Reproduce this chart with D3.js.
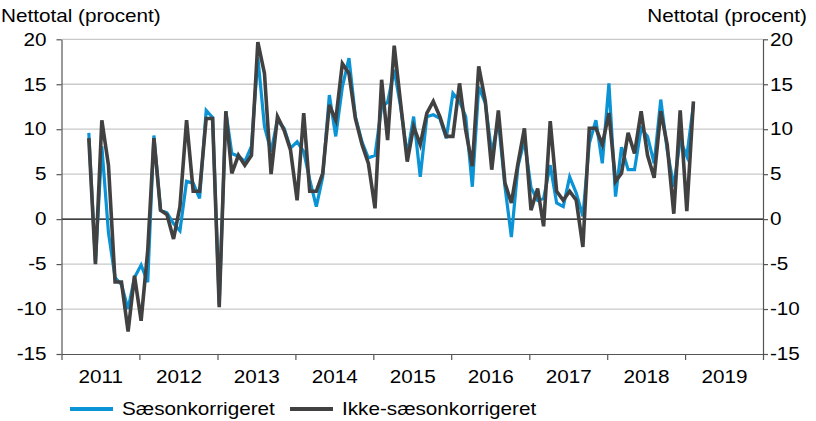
<!DOCTYPE html>
<html>
<head>
<meta charset="utf-8">
<script src="https://cdn.jsdelivr.net/npm/d3@7/dist/d3.min.js"></script>
<style>
  body { margin: 0; background: #fff; }
  text { font-family: "Liberation Sans", Arial, sans-serif; fill: #000; }
</style>
</head>
<body>
<svg id="chart" width="816" height="421"></svg>
<script>
// monthly data, May 2011 - Feb 2019
var startYear = 2011, startMonth = 4;

var saesonkorrigeret = [
  9.6, -4.8, 8.1, -1.5, -6.5, -7.3, -10, -6.5, -5.1, -7,
  9.3, 1, 0.7, -0.5, -1.3, 4.2, 4.0, 2.3, 12.1, 11.3,
  -9.5, 12, 7.3, 7.0, 6.4, 8.1, 18, 10.3, 7.5, 11.0,
  10.1, 7.9, 8.6, 7.5, 4.4, 1.4, 4.7, 13.8, 9.2, 14.7,
  17.9, 11.4, 8.6, 6.8, 7.1, 12.5, 13, 16.6, 12.5, 7.1,
  11.4, 4.7, 11.4, 11.6, 11.2, 9.0, 14.0, 13.1, 11.4, 3.6,
  14.7, 12.9, 7.3, 11.0, 3.6, -2.0, 5.9, 8.8, 3.5, 2.1,
  2.3, 6, 1.8, 1.4, 4.7, 2.9, 0.3, 8.4, 11.0, 6.2,
  15.1, 2.5, 8, 5.5, 5.5, 10.1, 9.2, 6.2, 13.3, 7.7,
  3.6, 8.8, 7.0, 12.7
];

var ikkeSaesonkorrigeret = [
  9.0, -5, 11, 6.0, -7, -7, -12.5, -6.3, -11.3, -3.5,
  9, 1.0, 0.5, -2.2, 1.4, 11.0, 3.1, 3.1, 11.2, 11.2,
  -9.8, 12.0, 5.1, 7.1, 6.0, 7.1, 19.7, 16.2, 5.0, 11.4,
  9.9, 7.7, 2.1, 11.8, 3.1, 3.1, 5.1, 12.7, 11.0, 17.3,
  16.2, 11.2, 8.3, 6.2, 1.2, 15.5, 8.8, 19.3, 12.9, 6.4,
  10.3, 8.3, 11.8, 13.1, 11.4, 9.2, 9.2, 15.1, 9.9, 5.9,
  17.0, 13.1, 5.5, 12.1, 4.0, 1.8, 6.2, 10.1, 1.0, 3.4,
  -0.8, 10.9, 3.1, 2.1, 3.1, 2.1, -3.1, 10.1, 10.1, 8.3,
  11.8, 4.2, 5.1, 9.6, 7.3, 12.0, 7.1, 4.6, 12.0, 8.3,
  0.6, 12.1, 0.9, 13.1
];

var years = [2011, 2012, 2013, 2014, 2015, 2016, 2017, 2018, 2019];
var yTicks = [-15, -10, -5, 0, 5, 10, 15, 20];
var gridTicks = [-10, -5, 5, 10, 15, 20];
var seriesNames = ["Sæsonkorrigeret", "Ikke-sæsonkorrigeret"];
var seriesColors = ["#0a93d5", "#414141"];
var axisTitle = "Nettotal (procent)";

var sx = 1.15; // text is slightly wide in the original

var svg = d3.select("#chart");
var plotL = 61.5, plotR = 763, plotT = 39.3, plotB = 354;

var x = d3.scaleTime()
  .domain([new Date(2011, 0, 1), new Date(2020, 0, 1)])
  .range([plotL, plotR]);
var y = d3.scaleLinear()
  .domain([-15, 20])
  .range([plotB, plotT]);

var dates = saesonkorrigeret.map(function(d, i) {
  return new Date(startYear, startMonth + i, 9);
});

// gridlines
svg.append("g").selectAll("line")
  .data(gridTicks)
  .enter().append("line")
  .attr("x1", plotL).attr("x2", plotR)
  .attr("y1", function(d) { return y(d); })
  .attr("y2", function(d) { return y(d); })
  .attr("stroke", "#c9c9c9")
  .attr("stroke-width", 1.3);

// zero line
svg.append("line")
  .attr("x1", plotL).attr("x2", plotR)
  .attr("y1", y(0)).attr("y2", y(0))
  .attr("stroke", "#000").attr("stroke-width", 1.2);

function styleAxis(g) {
  g.select(".domain").attr("stroke", "#555").attr("stroke-width", 1.2);
  g.selectAll(".tick line").attr("stroke", "#555").attr("stroke-width", 1.2);
  g.selectAll("text")
    .attr("font-size", 18)
    .attr("fill", "#000")
    .attr("transform", "scale(" + sx + ",1)");
}

var yFmt = function(d) { return d; };

svg.append("g")
  .attr("transform", "translate(" + plotL + ",0)")
  .call(d3.axisLeft(y).tickValues(yTicks).tickSize(5).tickPadding(8).tickSizeOuter(0).tickFormat(yFmt))
  .call(styleAxis);

svg.append("g")
  .attr("transform", "translate(" + plotR + ",0)")
  .call(d3.axisRight(y).tickValues(yTicks).tickSize(5).tickPadding(1).tickSizeOuter(0).tickFormat(yFmt))
  .call(styleAxis);

// x axis: ticks on year boundaries, labels centred in each year
var yearStarts = years.map(function(d) { return new Date(d, 0, 1); }).concat([new Date(2020, 0, 1)]);
svg.append("g")
  .attr("transform", "translate(0," + plotB + ")")
  .call(d3.axisBottom(x).tickValues(yearStarts).tickSize(6).tickSizeOuter(0).tickFormat(""))
  .call(styleAxis);

svg.append("g")
  .attr("transform", "translate(0," + plotB + ")")
  .call(d3.axisBottom(x).tickValues(years.map(function(d) { return new Date(d, 6, 2); }))
    .tickSize(0).tickPadding(16).tickFormat(d3.timeFormat("%Y")))
  .call(styleAxis)
  .call(function(g) { g.select(".domain").remove(); });

// series lines
var line = d3.line()
  .x(function(d, i) { return x(dates[i]); })
  .y(function(d) { return y(d); });

svg.append("path")
  .datum(saesonkorrigeret)
  .attr("d", line)
  .attr("fill", "none")
  .attr("stroke", seriesColors[0])
  .attr("stroke-width", 3.2)
  .attr("stroke-linejoin", "miter");

svg.append("path")
  .datum(ikkeSaesonkorrigeret)
  .attr("d", line)
  .attr("fill", "none")
  .attr("stroke", seriesColors[1])
  .attr("stroke-width", 3.6)
  .attr("stroke-linejoin", "miter");

// axis titles
svg.append("text")
  .attr("transform", "translate(1,22) scale(" + sx + ",1)")
  .attr("font-size", 18)
  .text(axisTitle);

svg.append("text")
  .attr("transform", "translate(807,22) scale(" + sx + ",1)")
  .attr("font-size", 18)
  .attr("text-anchor", "end")
  .text(axisTitle);

// legend
var legendX = [70, 290];
var legend = svg.append("g").selectAll("g")
  .data(seriesNames)
  .enter().append("g")
  .attr("transform", function(d, i) { return "translate(" + legendX[i] + ",409)"; });

legend.append("line")
  .attr("x1", 0).attr("x2", 43)
  .attr("stroke", function(d, i) { return seriesColors[i]; })
  .attr("stroke-width", 4);

legend.append("text")
  .attr("transform", "translate(52,6) scale(" + sx + ",1)")
  .attr("font-size", 18)
  .text(function(d) { return d; });
</script>
</body>
</html>
